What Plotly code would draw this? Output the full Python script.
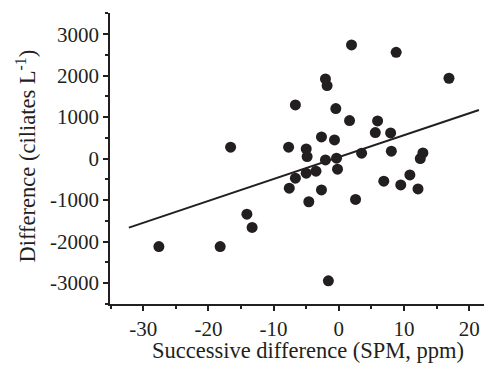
import plotly.graph_objects as go

# Data
spm_diff = [-27.6, -18.2, -16.6, -14.1, -13.3, -7.7, -7.6, -6.66, -6.66, -5.0,
            -4.86, -5.0, -4.6, -3.5, -2.66, -2.66, -2.05, -1.8, -2.05, -1.6,
            -0.66, -0.46, -0.35, -0.2, 1.65, 1.95, 2.57, 3.5, 5.6, 5.95,
            6.9, 7.95, 8.06, 8.8, 9.5, 10.9, 12.15, 12.5, 12.9, 16.9]
ciliate_diff = [-2120, -2120, 275, -1340, -1660, 275, -713, 1294, -472, 234,
                48, -352, -1040, -304, 523, -754, 1920, 1760, -31, -2945,
                450, 1205, 10, -255, 916, 2740, -985, 130, 627, 908,
                -545, 619, 178, 2563, -634, -393, -730, 0, 137, 1937]

# Regression line endpoints
fit_x = [-32.2, 21.5]
fit_y = [-1665, 1170]

x_ticks = [-30, -20, -10, 0, 10, 20]
y_ticks = [-3000, -2000, -1000, 0, 1000, 2000, 3000]

x_title = "Successive difference (SPM, ppm)"
y_title = "Difference (ciliates L<sup>-1</sup>)"

dark = "#231f20"
font_family = "Liberation Serif, Times New Roman, serif"
tick_fs = 21
title_fs = 22.5

fig = go.Figure()
fig.add_trace(go.Scatter(x=fit_x, y=fit_y, mode="lines",
                         line=dict(color=dark, width=2), showlegend=False))
fig.add_trace(go.Scatter(x=spm_diff, y=ciliate_diff, mode="markers",
                         marker=dict(color=dark, size=11, line=dict(width=0)),
                         showlegend=False))

# The page body has an 8px margin, so the figure is sized/offset to compensate
fig.update_layout(
    width=484, height=359,
    margin=dict(l=102, r=0, t=5, b=63),
    plot_bgcolor="white", paper_bgcolor="white",
    font=dict(family=font_family, size=tick_fs, color=dark),
    xaxis=dict(
        range=[-35.1, 23.5], tickvals=x_ticks,
        ticktext=[str(v) for v in x_ticks],
        showgrid=False, zeroline=False, automargin=False,
        showline=True, linecolor=dark, linewidth=1.5,
        ticks="outside", ticklen=5, tickwidth=1.5, tickcolor=dark,
        minor=dict(dtick=5, tick0=0, ticks="outside", ticklen=3, tickwidth=1.5, tickcolor=dark),
        tickfont=dict(size=tick_fs),
    ),
    yaxis=dict(
        range=[-3505, 3510], tickvals=y_ticks,
        ticktext=[str(v) for v in y_ticks],
        showgrid=False, zeroline=False, automargin=False,
        showline=True, linecolor=dark, linewidth=1.5,
        ticks="outside", ticklen=5, tickwidth=1.5, tickcolor=dark,
        minor=dict(dtick=500, tick0=0, ticks="outside", ticklen=3, tickwidth=1.5, tickcolor=dark),
        tickfont=dict(size=tick_fs),
    ),
    annotations=[
        dict(text=x_title, xref="paper", yref="paper", x=0.518, y=0,
             xanchor="center", yanchor="middle", yshift=-46, showarrow=False,
             font=dict(size=title_fs, family=font_family, color=dark)),
        dict(text=y_title, xref="paper", yref="paper", x=0, y=0.507,
             xanchor="center", yanchor="middle", xshift=-84, textangle=-90,
             showarrow=False,
             font=dict(size=title_fs, family=font_family, color=dark)),
    ],
)

fig.write_html("out.html")
